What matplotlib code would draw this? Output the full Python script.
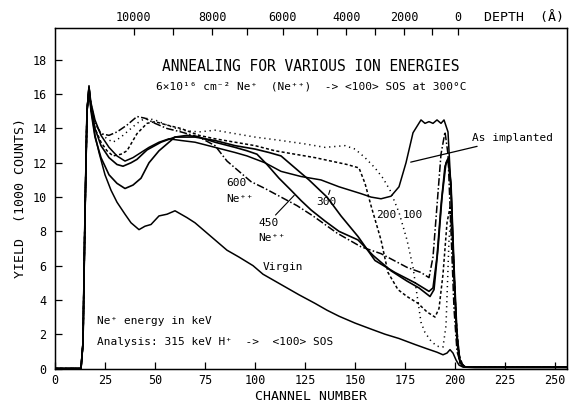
import numpy as np
import matplotlib
matplotlib.use("Agg")
import matplotlib.pyplot as plt

plt.rcParams['font.family'] = ['DejaVu Sans Mono', 'DejaVu Sans']

# spectra: (channel, yield in 1000 counts)
virgin_ch = [0, 13, 14, 15, 16, 17, 18, 20, 22, 25, 28, 31, 35, 38, 42, 45, 48, 52, 56, 60, 63, 66, 70, 76, 80, 86,
             92, 99, 104, 110, 116, 122, 130, 136, 142, 150, 158, 165, 172, 180, 186, 191, 194, 196, 197.5, 199,
             200.5, 202, 204, 210, 256]
virgin_y = [0, 0, 1.5, 9, 15, 16.5, 15.2, 13.6, 12.6, 11.3, 10.4, 9.7, 9.0, 8.5, 8.1, 8.3, 8.4, 8.9, 9.0, 9.2, 9.0,
            8.8, 8.5, 7.9, 7.5, 6.9, 6.5, 6.0, 5.5, 5.1, 4.7, 4.3, 3.8, 3.4, 3.05, 2.65, 2.3, 2.0, 1.75, 1.4, 1.15,
            0.95, 0.8, 0.9, 1.1, 0.9, 0.5, 0.2, 0.08, 0.05, 0.05]

impl_ch = [0, 13, 14, 15, 16, 17, 18, 20, 23, 27, 31, 35, 39, 43, 47, 52, 57, 63, 70, 80, 90, 96, 105, 113, 123, 133,
           142, 153, 158, 163, 168, 172, 175.5, 179, 183, 185, 187, 189, 191, 193, 194.5, 196.5, 198, 199.5, 201,
           202.5, 205, 256]
impl_y = [0, 0, 1.5, 9, 15, 16.4, 15.5, 14.5, 13.6, 12.9, 12.4, 12.1, 12.3, 12.6, 12.9, 13.2, 13.4, 13.3, 13.2, 12.9,
          12.6, 12.4, 12.0, 11.5, 11.2, 11.0, 10.6, 10.2, 10.0, 9.9, 10.05, 10.6, 12.0, 13.75, 14.5, 14.3, 14.4, 14.3,
          14.5, 14.3, 14.5, 13.8, 10.5, 5.5, 1.5, 0.3, 0.08, 0.08]

e600_ch = [0, 13, 14, 15, 16, 17, 18, 20, 23, 27, 31, 36, 41, 45, 50, 56, 63, 72, 80, 86, 92, 98, 105, 113, 121, 129,
           141, 153, 163, 176, 183, 187, 189, 191, 193, 195, 196.5, 198, 199.5, 201, 203, 205, 256]
e600_y = [0, 0, 1.5, 9, 15, 16.3, 15.3, 14.3, 13.7, 13.6, 13.8, 14.2, 14.7, 14.6, 14.3, 14.0, 13.8, 13.5, 13.0, 12.1,
          11.5, 10.9, 10.5, 10.0, 9.5, 8.9, 7.9, 7.1, 6.7, 5.9, 5.6, 5.3, 6.5, 9.5, 12.5, 13.8, 12.5, 8, 3.5, 1, 0.2,
          0.08, 0.08]

e450_ch = [0, 13, 14, 15, 16, 17, 18, 20, 23, 27, 31, 35, 39, 43, 47, 52, 56, 60, 66, 72, 80, 90, 96, 101, 106, 112,
           118, 123, 128, 135, 142, 151.5, 159, 168, 176, 182, 187.5, 189.5, 191.5, 193.5, 195.5, 196.7, 198, 199.5,
           201, 202.5, 205, 256]
e450_y = [0, 0, 1.5, 9, 15, 16.4, 15, 13.5, 12.3, 11.3, 10.8, 10.5, 10.7, 11.1, 12.0, 12.7, 13.1, 13.5, 13.6, 13.5,
          13.2, 12.9, 12.7, 12.5, 11.9, 11.1, 10.4, 9.8, 9.25, 8.6, 8.0, 7.5, 6.6, 5.7, 5.1, 4.7, 4.2, 4.6, 7, 10,
          12, 12.3, 10.5, 5.5, 1.8, 0.4, 0.08, 0.08]

e300_ch = [0, 13, 14, 15, 16, 17, 18, 20, 23, 27, 31, 34, 38, 41, 46, 53, 60, 70, 80, 90, 100, 107, 113, 120, 127,
           136, 143, 151.5, 160, 170, 180, 187, 189, 191, 193, 195, 196.5, 198, 199.5, 201, 202.5, 205, 256]
e300_y = [0, 0, 1.5, 9, 15, 16.4, 15.2, 14.0, 13.0, 12.3, 11.9, 11.8, 12.0, 12.2, 12.75, 13.2, 13.5, 13.5, 13.3,
          13.0, 12.8, 12.6, 12.4, 11.7, 11.0, 10.0, 8.9, 7.7, 6.3, 5.6, 5.0, 4.5, 4.7, 6.5, 9.5, 11.8, 12.2, 10.8, 6,
          2, 0.4, 0.08, 0.08]

e200_ch = [0, 13, 14, 15, 16, 17, 18, 20, 23, 26, 29, 33, 36, 41, 46, 50, 56, 63, 72, 80, 90, 100, 110, 120, 130,
           138, 146, 152, 155, 158, 161, 163, 166.5, 171.5, 176, 181.5, 186, 190, 192, 194, 196, 197.5, 199, 200.5,
           202, 204, 206, 256]
e200_y = [0, 0, 1.5, 9, 15, 16.3, 15.2, 14.0, 13.2, 12.7, 12.4, 12.5, 12.7, 13.7, 14.3, 14.4, 14.2, 14.0, 13.6,
          13.4, 13.2, 13.0, 12.7, 12.5, 12.3, 12.1, 11.9, 11.7, 10.8, 9.5, 8.3, 7.5, 5.6, 4.6, 4.2, 3.8, 3.3, 3.0,
          3.5, 5.5, 8.5, 9.4, 7, 3, 0.8, 0.15, 0.08, 0.08]

e100_ch = [0, 13, 14, 15, 16, 17, 18, 20, 23, 26, 29, 33, 37, 41, 45, 50, 56, 63, 72, 80, 90, 100, 113, 125, 135,
           145, 150, 155, 160, 164, 167.5, 172, 176, 179, 183, 185, 188, 191, 194, 195.5, 197, 198, 199, 200.5,
           202, 204, 206, 256]
e100_y = [0, 0, 1.5, 9, 15, 16.3, 15.4, 14.4, 13.7, 13.4, 13.2, 13.5, 13.9, 14.3, 14.6, 14.5, 14.2, 13.9, 13.8,
          13.9, 13.7, 13.5, 13.3, 13.1, 12.9, 13.0, 12.8, 12.3, 11.7, 11.1, 10.4, 9.1, 7.5, 5.9, 2.7, 2.1, 1.6,
          1.3, 1.25, 2.5, 7.5, 9.0, 7, 2.5, 0.6, 0.1, 0.08, 0.08]

# top axis: depth scale (angstrom) at these channels
depth_ch = [39.3, 59.1, 78.7, 96.2, 113.8, 131.0, 145.6, 160.1, 174.5, 188.3, 201.6]
depth_labels = ['10000', '', '8000', '', '6000', '', '4000', '', '2000', '', '0']

fig = plt.figure(figsize=(5.7, 4.04), dpi=100)
ax = fig.add_axes([55 / 570, 35.5 / 404, 512 / 570, 340.8 / 404])

lw = 1.1
ax.plot(virgin_ch, virgin_y, color='black', lw=lw)
ax.plot(impl_ch, impl_y, color='black', lw=lw)
ax.plot(e600_ch, e600_y, color='black', lw=lw, dashes=(5, 1.5, 1, 1.5))
ax.plot(e450_ch, e450_y, color='black', lw=lw + 0.1)
ax.plot(e300_ch, e300_y, color='black', lw=lw + 0.1)
ax.plot(e200_ch, e200_y, color='black', lw=lw, dashes=(2, 1.5))
ax.plot(e100_ch, e100_y, color='black', lw=lw, dashes=(0.8, 2.5))

ax.set_xlim(0, 256)
ax.set_ylim(0, 19.88)
ax.set_xticks(np.arange(0, 251, 25))
ax.set_yticks(np.arange(0, 19, 2))
ax.tick_params(direction='in', length=5, width=0.9, labelsize=8.5)
ax.tick_params(axis='x', pad=4)
ax.tick_params(axis='y', pad=6)
for s in ax.spines.values():
    s.set_linewidth(1.0)

ax2 = ax.twiny()
ax2.set_xlim(ax.get_xlim())
ax2.set_xticks(depth_ch)
ax2.set_xticklabels(depth_labels)
ax2.tick_params(direction='in', length=5, width=0.9, labelsize=8.5, pad=3)

ax.set_xlabel('CHANNEL NUMBER', fontsize=9.5, labelpad=2)
ax.set_ylabel('YIELD  (1000 COUNTS)', fontsize=9.5, labelpad=4)
ax.text(234.5, 20.5, 'DEPTH  (Å)', fontsize=9.5, ha='center', va='center', clip_on=False)

ax.text(128, 17.6, 'ANNEALING FOR VARIOUS ION ENERGIES', fontsize=10.5, ha='center', va='center')
ax.text(128, 16.45, '6×10¹⁶ cm⁻² Ne⁺  (Ne⁺⁺)  -> <100> SOS at 300°C', fontsize=8, ha='center', va='center')

ax.annotate('As implanted', xy=(176.5, 12.0), xytext=(208.5, 13.45), fontsize=8, va='center',
            arrowprops=dict(arrowstyle='-', color='black', lw=0.9))
ax.text(85.5, 10.8, '600', fontsize=8, va='center')
ax.text(85.5, 9.9, 'Ne⁺⁺', fontsize=8, va='center')
ax.annotate('450', xy=(119.6, 10.1), xytext=(101.5, 8.5), fontsize=8, va='center',
            arrowprops=dict(arrowstyle='-', color='black', lw=0.8, shrinkA=0, shrinkB=0))
ax.text(101.5, 7.6, 'Ne⁺⁺', fontsize=8, va='center')
ax.annotate('300', xy=(137.5, 10.4), xytext=(130.5, 9.7), fontsize=8, va='center',
            arrowprops=dict(arrowstyle='-', color='black', lw=0.8, shrinkA=8, shrinkB=0))
ax.text(160.5, 8.95, '200', fontsize=8, va='center')
ax.text(174, 8.95, '100', fontsize=8, va='center')
ax.text(104, 5.9, 'Virgin', fontsize=8, va='center')
ax.text(21, 2.75, 'Ne⁺ energy in keV', fontsize=8, va='center')
ax.text(21, 1.55, 'Analysis: 315 keV H⁺  ->  <100> SOS', fontsize=8, va='center')

fig.savefig('out.png', dpi=100)
